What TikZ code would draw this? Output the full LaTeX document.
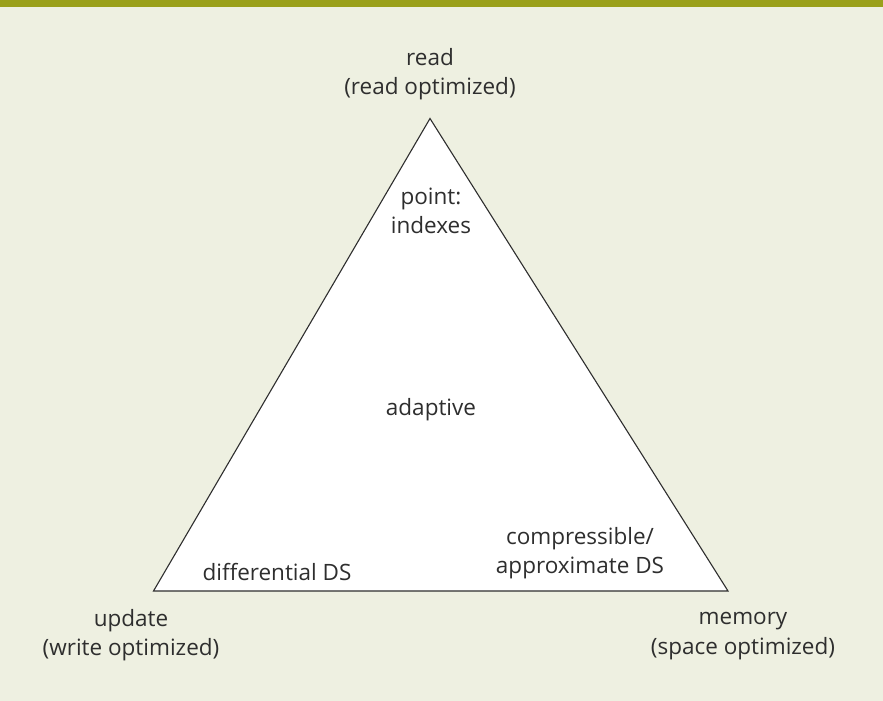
\documentclass[tikz,border=0pt]{standalone}
\usepackage{fontspec}
\setmainfont{Open Sans}
\definecolor{bg}{HTML}{EEF0E1}
\definecolor{bar}{HTML}{9AA01A}
\definecolor{ink}{HTML}{2E2E2E}
\begin{document}
\begin{tikzpicture}[x=1pt,y=-1pt,
  lbl/.style={align=center, text=ink, font=\fontsize{22.5}{29.5}\selectfont, inner sep=0pt},
  edge/.style={draw=ink, line width=1.1pt, line join=miter}]
\fill[bg] (0,0) rectangle (883,701);
\fill[bar] (0,0) rectangle (883,7);
\useasboundingbox (0,0) rectangle (883,701);
\coordinate (apex) at (430,118.5);
\coordinate (bl) at (153.5,591);
\coordinate (br) at (728,591);
\draw[edge, fill=white] (apex) -- (bl) -- (br) -- cycle;
\node[lbl] (read) at (430,74) {read\\(read optimized)};
\node[lbl] (point) at (431,211) {point:\\indexes};
\node[lbl] (adaptive) at (431,410) {adaptive};
\node[lbl] (diff) at (277,572) {differential DS};
\node[lbl] (comp) at (580,553) {compressible/\\approximate DS};
\node[lbl] (update) at (131,635) {update\\(write optimized)};
\node[lbl] (memory) at (743,636) {memory\\(space optimized)};
\end{tikzpicture}
\end{document}
